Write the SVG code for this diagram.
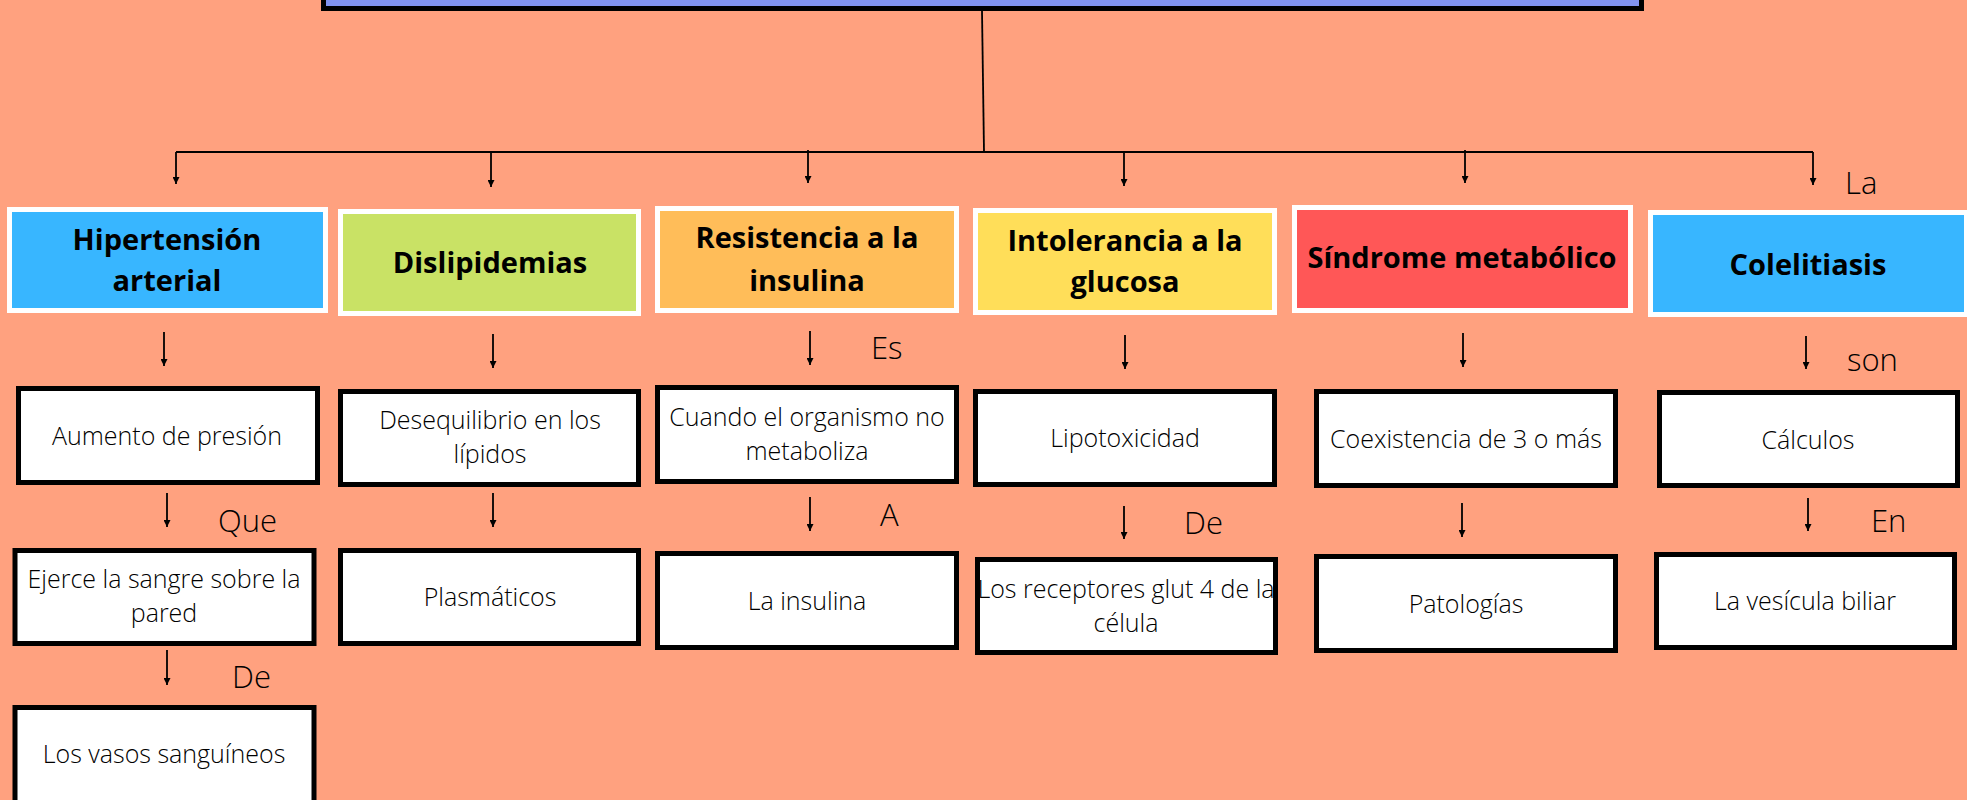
<svg xmlns="http://www.w3.org/2000/svg" width="1967" height="800" viewBox="0 0 1967 800">
<defs>
<marker id="ah" viewBox="0 0 7 7" refX="7" refY="3.5" markerWidth="7" markerHeight="7" markerUnits="userSpaceOnUse" orient="auto">
<path d="M0,0 L7,3.5 L0,7 z" fill="#000"/>
</marker>
<style>
.hd{stroke:#fff;stroke-width:5}
.bx{fill:#fff;stroke:#000;stroke-width:5}
.ht{font-family:"Open Sans","Liberation Sans",sans-serif;font-weight:700;font-size:29px;fill:#000;text-anchor:middle}
.bt{font-family:"Open Sans","Liberation Sans",sans-serif;font-weight:300;font-size:25px;fill:#000;text-anchor:middle}
.lb{font-family:"Open Sans","Liberation Sans",sans-serif;font-weight:300;font-size:31px;fill:#000}
.cn path{fill:none;stroke:#000;stroke-width:1.8}
.cn .ar{marker-end:url(#ah)}
</style>
</defs>
<rect width="1967" height="800" fill="#FFA17F"/>
<g id="title"><rect x="323.5" y="-30" width="1318" height="38.5" fill="#8193F0" stroke="#000" stroke-width="5"/></g>
<g id="connectors" class="cn">
<path d="M982,11 L984,152"/>
<path d="M176,152 H1813"/>
<path class="ar" d="M176,152 V184"/>
<path class="ar" d="M491,152 V187"/>
<path class="ar" d="M808,150 V183"/>
<path class="ar" d="M1124,152 V186"/>
<path class="ar" d="M1465,150 V183"/>
<path class="ar" d="M1813,152 V185"/>
<path class="ar" d="M164,332 V366"/>
<path class="ar" d="M493,334 V368"/>
<path class="ar" d="M810,331 V365"/>
<path class="ar" d="M1125,335 V369"/>
<path class="ar" d="M1463,333 V367"/>
<path class="ar" d="M1806,336 V369"/>
<path class="ar" d="M167,493 V527"/>
<path class="ar" d="M493,493 V527"/>
<path class="ar" d="M810,497 V531"/>
<path class="ar" d="M1124,506 V539"/>
<path class="ar" d="M1462,503 V537"/>
<path class="ar" d="M1808,498 V531"/>
<path class="ar" d="M167,650 V685"/>
<text class="lb" x="1845" y="194">La</text>
<text class="lb" x="871" y="359">Es</text>
<text class="lb" x="1847" y="371">son</text>
<text class="lb" x="218" y="532">Que</text>
<text class="lb" x="880" y="526">A</text>
<text class="lb" x="1184" y="534">De</text>
<text class="lb" x="1871" y="532">En</text>
<text class="lb" x="232" y="688">De</text>
</g>
<g id="hipertension"><rect class="hd" x="9.5" y="209.5" width="316" height="101" fill="#38B6FF"/><text class="ht" x="167" y="250">Hipertensión</text><text class="ht" x="167" y="291">arterial</text></g>
<g id="dislipidemias"><rect class="hd" x="340.5" y="211.5" width="298" height="102" fill="#C9E265"/><text class="ht" x="490" y="273">Dislipidemias</text></g>
<g id="resistencia"><rect class="hd" x="657.5" y="208.5" width="299" height="102" fill="#FFBD59"/><text class="ht" x="807" y="248">Resistencia a la</text><text class="ht" x="807" y="291">insulina</text></g>
<g id="intolerancia"><rect class="hd" x="975.5" y="210.5" width="299" height="102" fill="#FFDE59"/><text class="ht" x="1125" y="251">Intolerancia a la</text><text class="ht" x="1125" y="292">glucosa</text></g>
<g id="sindrome"><rect class="hd" x="1294.5" y="207.5" width="336" height="103" fill="#FF5757"/><text class="ht" x="1462" y="268">Síndrome metabólico</text></g>
<g id="colelitiasis"><rect class="hd" x="1650.5" y="212.5" width="316" height="102" fill="#38B6FF"/><text class="ht" x="1808" y="275">Colelitiasis</text></g>
<g id="aumento"><rect class="bx" x="18.5" y="388.5" width="299" height="94"/><text class="bt" x="167" y="445">Aumento de presión</text></g>
<g id="ejerce"><rect class="bx" x="15" y="550.5" width="299" height="93"/><text class="bt" x="164" y="588">Ejerce la sangre sobre la</text><text class="bt" x="164" y="622">pared</text></g>
<g id="vasos"><rect class="bx" x="15" y="707.5" width="299" height="120"/><text class="bt" x="164" y="763">Los vasos sanguíneos</text></g>
<g id="desequilibrio"><rect class="bx" x="340.5" y="391.5" width="298" height="93"/><text class="bt" x="490" y="429">Desequilibrio en los</text><text class="bt" x="490" y="463">lípidos</text></g>
<g id="plasmaticos"><rect class="bx" x="340.5" y="550.5" width="298" height="93"/><text class="bt" x="490" y="606">Plasmáticos</text></g>
<g id="cuando"><rect class="bx" x="657.5" y="387.5" width="299" height="94"/><text class="bt" x="807" y="426">Cuando el organismo no</text><text class="bt" x="807" y="460">metaboliza</text></g>
<g id="lainsulina"><rect class="bx" x="657.5" y="553.5" width="299" height="94"/><text class="bt" x="807" y="610">La insulina</text></g>
<g id="lipotoxicidad"><rect class="bx" x="975.5" y="391.5" width="299" height="93"/><text class="bt" x="1125" y="447">Lipotoxicidad</text></g>
<g id="receptores"><rect class="bx" x="977.5" y="559.5" width="298" height="93"/><text class="bt" x="1126" y="598">Los receptores glut 4 de la</text><text class="bt" x="1126" y="632">célula</text></g>
<g id="coexistencia"><rect class="bx" x="1316.5" y="391.5" width="299" height="94"/><text class="bt" x="1466" y="448">Coexistencia de 3 o más</text></g>
<g id="patologias"><rect class="bx" x="1316.5" y="556.5" width="299" height="94"/><text class="bt" x="1466" y="613">Patologías</text></g>
<g id="calculos"><rect class="bx" x="1659.5" y="392.5" width="298" height="93"/><text class="bt" x="1808" y="449">Cálculos</text></g>
<g id="vesicula"><rect class="bx" x="1656.5" y="554.5" width="298" height="93"/><text class="bt" x="1805" y="610">La vesícula biliar</text></g>
</svg>
